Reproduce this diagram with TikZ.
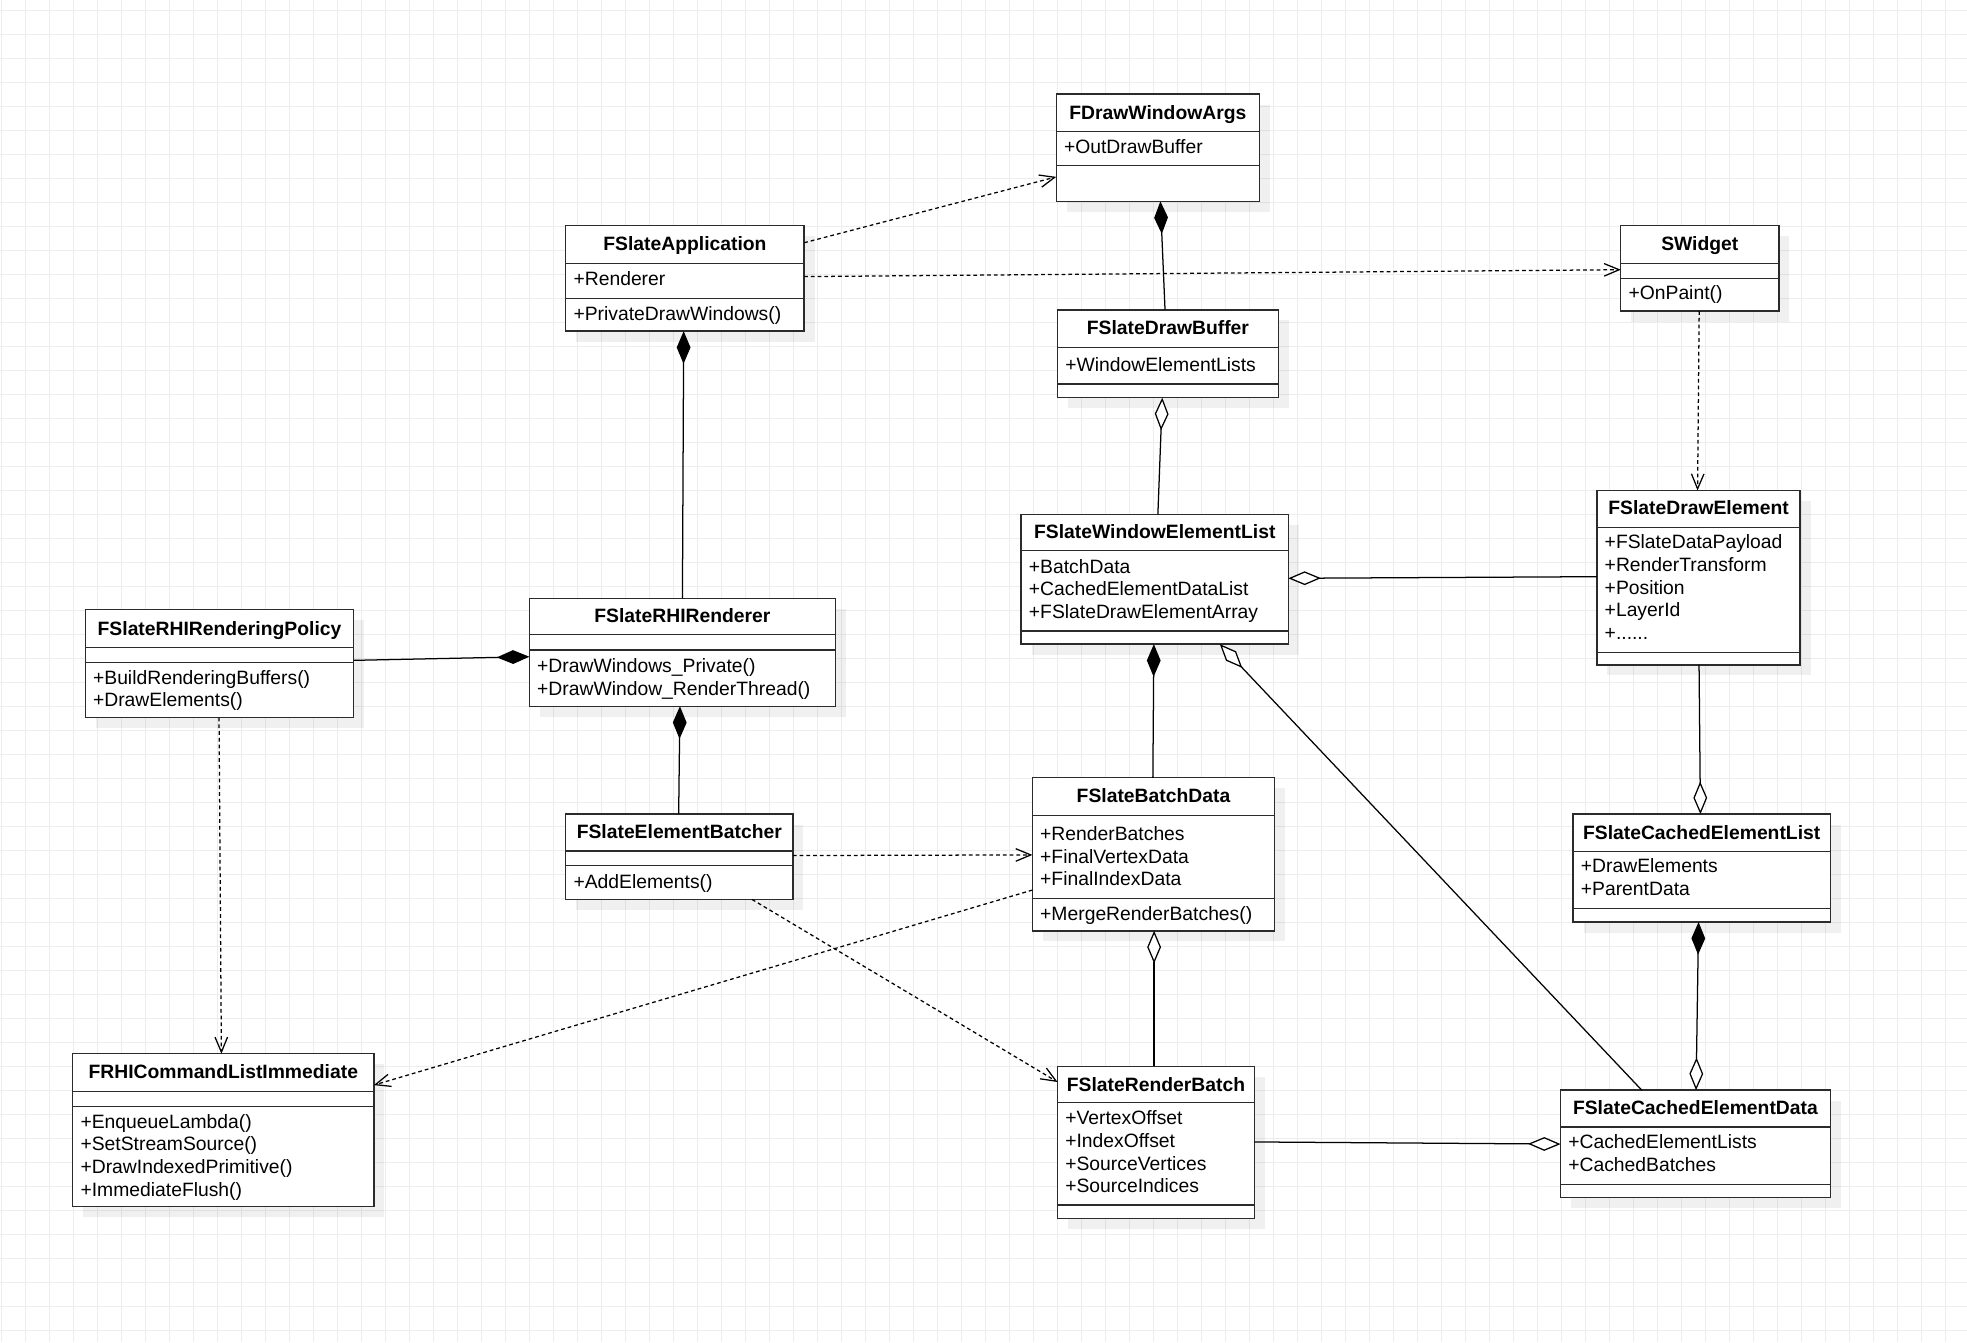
\documentclass[tikz,border=0pt]{standalone}
\usepackage{fontspec}
\setmainfont{Liberation Sans}
\usetikzlibrary{arrows.meta,shadows}
\definecolor{gridc}{HTML}{EDEDED}
\definecolor{bord}{HTML}{2B2B2B}
\tikzset{
  cls/.style={draw=bord, line width=1.1pt, fill=white, inner sep=0pt, outer sep=0pt, anchor=north west,
    general shadow={fill=black, opacity=0.06, shadow xshift=8.4pt, shadow yshift=-8.4pt}},
  ttl/.style={font=\fontsize{15.4}{18}\selectfont\bfseries, inner sep=0pt, anchor=base},
  att/.style={font=\fontsize{15.4}{18}\selectfont, inner sep=0pt, anchor=base west},
  sepline/.style={draw=bord, line width=1.1pt},
  conn/.style={draw=black, line width=1pt},
  dep/.style={conn, dash pattern=on 3pt off 2.4pt, -{Straight Barb[length=12pt,width=10pt,line width=1pt]}},
  comp/.style={conn, -{Diamond[length=26pt,width=11pt]}},
  agg/.style={conn, -{Diamond[length=26pt,width=11pt,fill=white]}},
}
\newcommand\umlcls[9]{%
  \node[cls, minimum width={(#4-#2)*1pt}, minimum height={(#5-#3)*1pt}] (#1) at (#2,#3) {};
  \draw[sepline] (#1.west |- 0,#6) -- (#1.east |- 0,#6);
  \draw[sepline] (#1.west |- 0,#7) -- (#1.east |- 0,#7);
  \node[ttl] (#1-t) at ({(#2+#4)/2},#9) {#8};
}
\newcommand\umlrows[4]{%
  \foreach \t [count=\i] in {#4} {\node[att] (#1\i) at (#2,{#3+18*(\i-1)}) {\t};}
}
\begin{document}
\begin{tikzpicture}[x=1pt,y=-1pt]
\fill[white] (0,0) rectangle (1568,1070);
\useasboundingbox (0,0) rectangle (1568,1070);
\foreach \k in {0,...,81} \draw[gridc, line width=0.8pt] ({1.04+19.13*\k},0) -- ({1.04+19.13*\k},1070);
\foreach \k in {0,...,55} \draw[gridc, line width=0.8pt] (0,{8.2+19.13*\k}) -- (1568,{8.2+19.13*\k});

\umlcls{dwa}{842}{75}{1004}{160.5}{105}{132}{FDrawWindowArgs}{95}
\umlrows{dwa-a}{848}{122.3}{+OutDrawBuffer}

\umlcls{app}{451}{180}{641}{264}{210}{238}{FSlateApplication}{200}
\umlrows{app-a}{457}{227.7}{+Renderer}
\umlrows{app-m}{457}{255.7}{+PrivateDrawWindows()}

\umlcls{sw}{1292}{180}{1418}{248}{210}{222}{SWidget}{200}
\umlrows{sw-m}{1298}{239}{+OnPaint()}

\umlcls{db}{843}{247}{1019}{317}{277}{306}{FSlateDrawBuffer}{267}
\umlrows{db-a}{849}{296.3}{+WindowElementLists}

\umlcls{wel}{814}{410}{1027}{513.5}{439}{503}{FSlateWindowElementList}{429.5}
\umlrows{wel-a}{820}{457}{+BatchData,+CachedElementDataList,+FSlateDrawElementArray}

\umlcls{de}{1273}{391}{1435}{530}{420.5}{520}{FSlateDrawElement}{410.3}
\umlrows{de-a}{1279}{437.6}{+FSlateDataPayload,+RenderTransform,+Position,+LayerId}
\node[att] (de-a5) at (1279,509.6) {+......};

\umlcls{pol}{68}{486}{282}{572}{516}{528}{FSlateRHIRenderingPolicy}{506.3}
\umlrows{pol-m}{74}{545.3}{+BuildRenderingBuffers(),+DrawElements()}

\umlcls{rr}{422}{477}{666}{563}{506}{518}{FSlateRHIRenderer}{496.6}
\umlrows{rr-m}{428}{536.3}{+DrawWindows\_Private(),+DrawWindow\_RenderThread()}

\umlcls{eb}{451}{649}{632}{717}{678.5}{690}{FSlateElementBatcher}{668.8}
\umlrows{eb-m}{457}{708}{+AddElements()}

\umlcls{bd}{823}{620}{1016}{742}{650}{716}{FSlateBatchData}{639.8}
\umlrows{bd-a}{829}{670}{+RenderBatches,+FinalVertexData,+FinalIndexData}
\umlrows{bd-m}{829}{733.5}{+MergeRenderBatches()}

\umlcls{cel}{1254}{649}{1459}{735}{679}{724}{FSlateCachedElementList}{669}
\umlrows{cel-a}{1260}{695.7}{+DrawElements,+ParentData}

\umlcls{rb}{843}{850}{1000}{971.5}{879}{960.5}{FSlateRenderBatch}{870}
\umlrows{rb-a}{849}{896.7}{+VertexOffset,+IndexOffset,+SourceVertices,+SourceIndices}

\umlcls{ced}{1244}{869}{1459}{954.5}{898.5}{944}{FSlateCachedElementData}{888.8}
\umlrows{ced-a}{1250}{915.6}{+CachedElementLists,+CachedBatches}

\umlcls{rhi}{58}{840}{298}{962}{870}{882}{FRHICommandListImmediate}{860}
\umlrows{rhi-m}{64}{899.4}{+EnqueueLambda(),+SetStreamSource(),+DrawIndexedPrimitive(),+ImmediateFlush()}

% connectors
\draw[dep] (app.east |- 0,193.5) -- (dwa.west |- 0,141);
\draw[dep] (app.east |- 0,220.5) -- (sw.west |- 0,215);
\draw[comp] (928.7,0 |- db.north) -- (925,0 |- dwa.south);
\draw[agg] (923,0 |- wel.north) -- (926.5,0 |- db.south);
\draw[dep] (1354.5,0 |- sw.south) -- (1353.2,0 |- de.north);
\draw[agg] (de.west |- 0,459.7) -- (wel.east |- 0,461);
\draw[comp] (544,0 |- rr.north) -- (545,0 |- app.south);
\draw[comp] (pol.east |- 0,526.4) -- (rr.west |- 0,523.5);
\draw[comp] (541,0 |- eb.north) -- (542,0 |- rr.south);
\draw[dep] (174.6,0 |- pol.south) -- (176.5,0 |- rhi.north);
\draw[dep] (eb.east |- 0,682) -- (bd.west |- 0,681.5);
\draw[dep] (bd.west |- 0,709.5) -- (rhi.east |- 0,865);
\draw[dep] (599.5,0 |- eb.south) -- (rb.west |- 0,862.5);
\draw[comp] (919,0 |- bd.north) -- (919.8,0 |- wel.south);
\draw[agg] (1308.7,0 |- ced.north) -- (972.4,0 |- wel.south);
\draw[agg] (920,0 |- rb.north) -- (920,0 |- bd.south);
\draw[agg] (1354.4,0 |- de.south) -- (1355.5,0 |- cel.north);
\draw[conn, {Diamond[length=26pt,width=11pt]}-{Diamond[length=26pt,width=11pt,fill=white]}] (1354,0 |- cel.south) -- (1352,0 |- ced.north);
\draw[agg] (rb.east |- 0,910.3) -- (ced.west |- 0,912);
\end{tikzpicture}
\end{document}
